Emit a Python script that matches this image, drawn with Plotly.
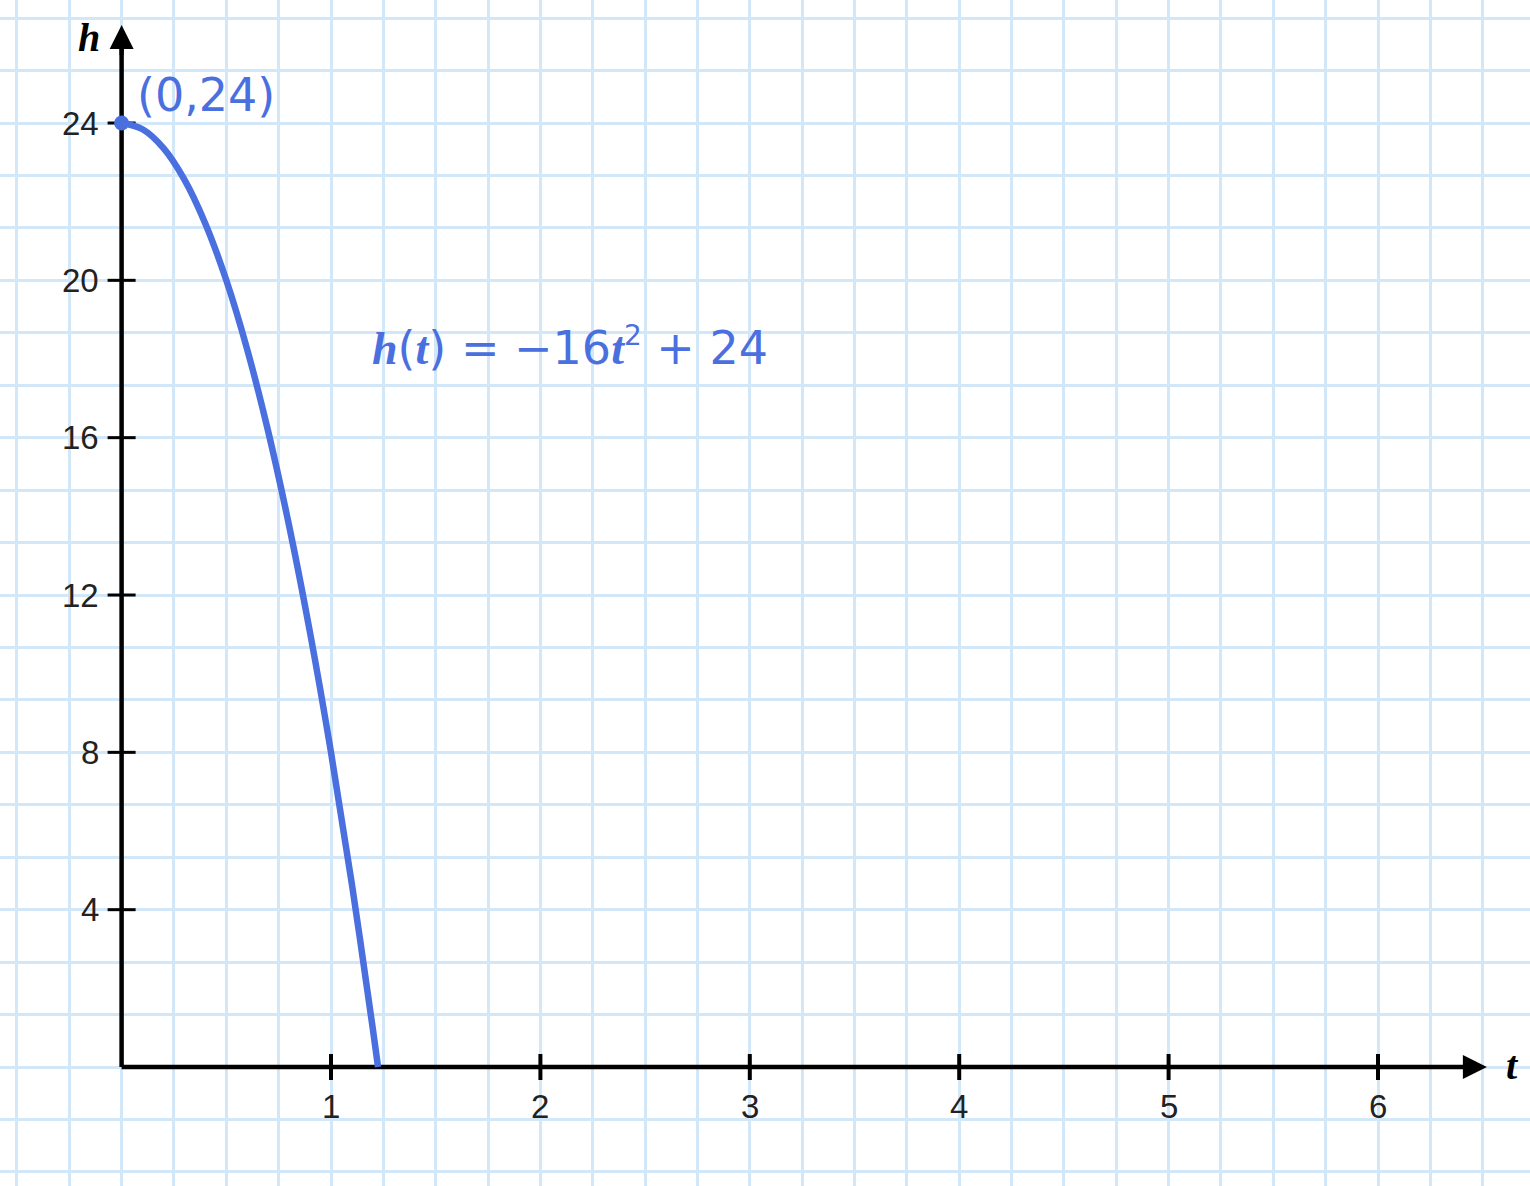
import plotly.graph_objects as go

# ---- data ----
t_vals = [0, 0.1, 0.2, 0.3, 0.4, 0.5, 0.6, 0.7, 0.8, 0.9, 1.0, 1.1, 1.2, 1.2247]
h_vals = [24, 23.84, 23.36, 22.56, 21.44, 20, 18.24, 16.16, 13.76, 11.04, 8, 4.64, 0.96, 0]
x_ticks = [1, 2, 3, 4, 5, 6]
x_tick_labels = ["1", "2", "3", "4", "5", "6"]
y_ticks = [4, 8, 12, 16, 20, 24]
y_tick_labels = ["4", "8", "12", "16", "20", "24"]
point_t = [0]
point_h = [24]
point_label = "(0,24)"

W, H = 1530, 1186
X_RANGE = [-0.5807, 6.7259]
Y_RANGE = [-3.025, 27.127]
X_ARROW_TIP = 6.52
Y_ARROW_TIP = 26.49

BLUE = "#4a6fdf"
GRID = "#d2e7f8"
BLACK = "#000000"
TICK_COLOR = "#222222"

fig = go.Figure()

# axis lines (drawn as traces so the curve sits on top)
fig.add_trace(go.Scatter(x=[0, X_ARROW_TIP - 0.05], y=[0, 0], mode="lines",
                         line=dict(color=BLACK, width=4.5), hoverinfo="skip", showlegend=False))
fig.add_trace(go.Scatter(x=[0, 0], y=[0, Y_ARROW_TIP - 0.3], mode="lines",
                         line=dict(color=BLACK, width=4.5), hoverinfo="skip", showlegend=False))

fig.add_trace(go.Scatter(
    x=t_vals, y=h_vals, mode="lines",
    line=dict(color=BLUE, width=6.5, shape="spline"),
    hoverinfo="skip", showlegend=False,
))
fig.add_trace(go.Scatter(
    x=point_t, y=point_h, mode="markers",
    marker=dict(color=BLUE, size=15),
    hoverinfo="skip", showlegend=False,
))

shapes = []
# tick marks
for xt in x_ticks:
    shapes.append(dict(type="line", xref="x", yref="y", x0=xt, x1=xt,
                       ysizemode="pixel", yanchor=0, y0=-13, y1=13,
                       line=dict(color=BLACK, width=4), layer="between"))
for yt in y_ticks:
    shapes.append(dict(type="line", xref="x", yref="y", y0=yt, y1=yt,
                       xsizemode="pixel", xanchor=0, x0=-14, x1=14,
                       line=dict(color=BLACK, width=3), layer="between"))

annotations = []
# arrow heads
annotations.append(dict(x=X_ARROW_TIP, y=0, ax=X_ARROW_TIP - 0.15, ay=0, axref="x", ayref="y",
                        xref="x", yref="y", text="", showarrow=True, arrowhead=2,
                        arrowsize=1.2, arrowwidth=4, arrowcolor=BLACK, standoff=0))
annotations.append(dict(x=0, y=Y_ARROW_TIP, ax=0, ay=Y_ARROW_TIP - 0.8, axref="x", ayref="y",
                        xref="x", yref="y", text="", showarrow=True, arrowhead=2,
                        arrowsize=1.2, arrowwidth=4, arrowcolor=BLACK, standoff=0))
# tick labels
for xt, lab in zip(x_ticks, x_tick_labels):
    annotations.append(dict(x=xt, y=0, xref="x", yref="y", text=lab, showarrow=False,
                            yshift=-39, xanchor="center", yanchor="middle",
                            font=dict(family="Liberation Sans, Arial", size=33, color=TICK_COLOR)))
for yt, lab in zip(y_ticks, y_tick_labels):
    annotations.append(dict(x=0, y=yt, xref="x", yref="y", text=lab, showarrow=False,
                            xshift=-21, xanchor="right", yanchor="middle",
                            font=dict(family="Liberation Sans, Arial", size=33, color=TICK_COLOR)))
# axis titles
annotations.append(dict(x=0, y=Y_ARROW_TIP, xref="x", yref="y", text="<b><i>h</i></b>",
                        showarrow=False, xshift=-33, yshift=-12, xanchor="center", yanchor="middle",
                        font=dict(family="Liberation Serif, Times New Roman", size=40, color=BLACK)))
annotations.append(dict(x=X_ARROW_TIP, y=0, xref="x", yref="y", text="<b><i>t</i></b>",
                        showarrow=False, xshift=26, yshift=2, xanchor="center", yanchor="middle",
                        font=dict(family="Liberation Serif, Times New Roman", size=40, color=BLACK)))
# point label
annotations.append(dict(x=point_t[0], y=point_h[0], xref="x", yref="y", text=point_label,
                        showarrow=False, xshift=13, yshift=28, xanchor="left", yanchor="middle",
                        font=dict(family="DejaVu Sans", size=46, color=BLUE)))
# equation
serif = "font-family:'Liberation Serif','Times New Roman'"
eq = (f"<span style=\"{serif}\"><b><i>h</i></b></span>(<span style=\"{serif}\"><b><i>t</i></b></span>)"
      f" = \u221216<span style=\"{serif}\"><b><i>t</i></b></span>"
      f"<sup><span style=\"font-size:28px\">2</span></sup> + 24")
annotations.append(dict(x=1.186, y=18.3, xref="x", yref="y", text=eq, showarrow=False,
                        xanchor="left", yanchor="middle",
                        font=dict(family="DejaVu Sans", size=46, color=BLUE)))

fig.update_layout(
    width=W, height=H,
    margin=dict(l=0, r=0, t=0, b=0),
    paper_bgcolor="white", plot_bgcolor="white",
    shapes=shapes, annotations=annotations,
    xaxis=dict(range=X_RANGE, showgrid=True, gridcolor=GRID, gridwidth=2.5,
               tick0=0, dtick=0.25, showticklabels=False, zeroline=False,
               showline=False, ticks="", fixedrange=True),
    yaxis=dict(range=Y_RANGE, showgrid=True, gridcolor=GRID, gridwidth=2.5,
               tick0=0, dtick=4 / 3, showticklabels=False, zeroline=False,
               showline=False, ticks="", fixedrange=True),
    showlegend=False,
)

fig.write_html("out.html", config={"displayModeBar": False},
               post_script="document.body.style.margin='0';document.body.style.overflow='hidden';")
